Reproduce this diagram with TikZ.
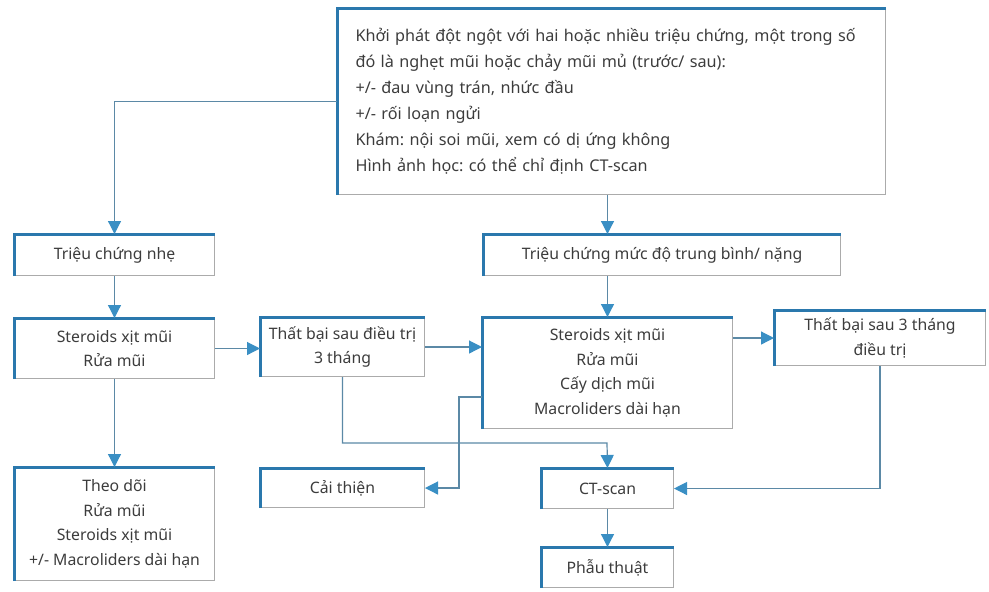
\documentclass[tikz,border=0pt]{standalone}
\usepackage{fontspec}
\setmainfont{Noto Sans}
\usetikzlibrary{arrows.meta, calc}
\frenchspacing

\definecolor{edgeblue}{HTML}{2A78AD}
\definecolor{linkgray}{HTML}{5B89A6}
\definecolor{headblue}{HTML}{3A8FC4}
\definecolor{framegray}{HTML}{ABABAB}
\definecolor{inkgray}{HTML}{3C3C3C}

\tikzset{
  box/.style={draw=framegray, line width=0.5pt, anchor=north west, inner sep=0pt,
    align=center, text=inkgray, font=\fontsize{7.9pt}{12.3pt}\selectfont},
  blueedge/.style={draw=edgeblue, line width=1.5pt},
  arr/.style={draw=linkgray, line width=0.6pt, -{Triangle[length=6.5pt, width=6.5pt, color=headblue]}}
}

\begin{document}
\begin{tikzpicture}[x=0.5pt, y=-0.5pt]
  \useasboundingbox (0,0) rectangle (989,591);

  % Boxes
  \node[box, minimum width=274pt, minimum height=93pt, text width=256pt, align=left,
        font=\fontsize{8.1pt}{13pt}\selectfont] (onset) at (337,8)
    {Khởi phát đột ngột với hai hoặc nhiều triệu chứng, một trong số\\
     đó là nghẹt mũi hoặc chảy mũi mủ (trước/ sau):\\
     +/- đau vùng trán, nhức đầu\\
     +/- rối loạn ngửi\\
     Khám: nội soi mũi, xem có dị ứng không\\
     Hình ảnh học: có thể chỉ định CT-scan};
  \node[box, minimum width=100pt, minimum height=20.5pt] (mild) at (14,234) {Triệu chứng nhẹ};
  \node[box, minimum width=178.5pt, minimum height=20.5pt] (severe) at (483,234) {Triệu chứng mức độ trung bình/ nặng};
  \node[box, minimum width=100pt, minimum height=30pt] (treatA) at (14,318) {Steroids xịt mũi\\ Rửa mũi};
  \node[box, minimum width=82pt, minimum height=29.5pt] (failA) at (260,317) {Thất bại sau điều trị\\ 3 tháng};
  \node[box, minimum width=125pt, minimum height=55.5pt] (treatB) at (482,317)
    {Steroids xịt mũi\\ Rửa mũi\\ Cấy dịch mũi\\ Macroliders dài hạn};
  \node[box, minimum width=105.5pt, minimum height=27.5pt] (failB) at (774,310) {Thất bại sau 3 tháng\\ điều trị};
  \node[box, minimum width=100pt, minimum height=56.5pt] (follow) at (14,467)
    {Theo dõi\\ Rửa mũi\\ Steroids xịt mũi\\ +/- Macroliders dài hạn};
  \node[box, minimum width=82pt, minimum height=19.5pt] (better) at (260,468) {Cải thiện};
  \node[box, minimum width=66pt, minimum height=20pt] (ct) at (541,468) {CT-scan};
  \node[box, minimum width=66pt, minimum height=20pt] (surgery) at (541,547) {Phẫu thuật};

  % Thick top and left edges
  \foreach \n in {onset, mild, severe, treatA, failA, treatB, failB, follow, better, ct, surgery} {
    \draw[blueedge] (\n.south west) -- (\n.north west) -- (\n.north east);
  }

  % Connectors
  \coordinate (bendA) at (607,443);
  \coordinate (bendB) at (459,397);
  \draw[arr] (onset.west) -| (mild.north);
  \draw[arr] (onset.south -| treatB.north) -- (severe.north -| treatB.north);
  \draw[arr] (severe.south -| treatB.north) -- (treatB.north);
  \draw[arr] (mild.south) -- (treatA.north);
  \draw[arr] (treatA.east) -- (treatA.east -| failA.west);
  \draw[arr] (failA.east) -- (failA.east -| treatB.west);
  \draw[arr] (treatB.east |- failB.west) -- (failB.west);
  \draw[arr] (treatA.south) -- (follow.north);
  \draw[arr] (failA.south) |- (bendA) -- (ct.north);
  \draw[arr] (bendB -| treatB.west) -- (bendB) |- (better.east);
  \draw[arr] (failB.south) |- (ct.east);
  \draw[arr] (ct.south) -- (surgery.north);
\end{tikzpicture}
\end{document}
